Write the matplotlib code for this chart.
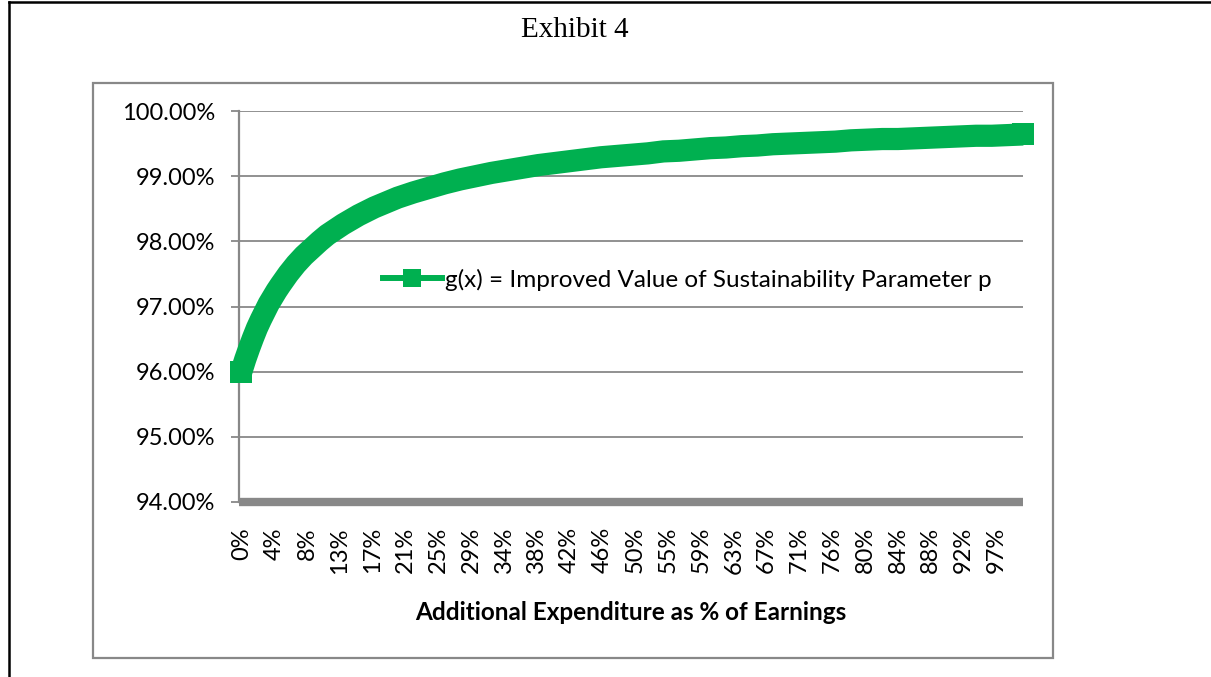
import matplotlib.pyplot as plt
from matplotlib.lines import Line2D
from matplotlib.patches import Rectangle
from matplotlib.ticker import FuncFormatter

# additional expenditure (% of earnings) and g(x) (%)
expenditure = [0, 0.5, 1, 1.5, 2, 2.5, 3, 3.5, 4, 4.5, 5,
               6, 7, 8, 9, 10, 11, 12, 13, 14, 15, 16, 17, 18, 19, 20,
               22, 24, 26, 28, 30, 32, 34, 36, 38, 40, 42, 44, 46, 48, 50,
               52, 54, 56, 58, 60, 62, 64, 66, 68, 70, 72, 74, 76, 78, 80,
               82, 84, 86, 88, 90, 92, 94, 96, 98, 100]
g_values = [96.00, 96.19, 96.36, 96.52, 96.67, 96.80, 96.92, 97.04, 97.14, 97.24, 97.33,
            97.50, 97.65, 97.78, 97.89, 98.00, 98.10, 98.18, 98.26, 98.33, 98.40,
            98.46, 98.52, 98.57, 98.62, 98.67,
            98.75, 98.82, 98.89, 98.95, 99.00, 99.05, 99.09, 99.13, 99.17, 99.20,
            99.23, 99.26, 99.29, 99.31, 99.33, 99.35, 99.38, 99.39, 99.41, 99.43,
            99.44, 99.46, 99.47, 99.49, 99.50, 99.51, 99.52, 99.53, 99.55, 99.56,
            99.57, 99.57, 99.58, 99.59, 99.60, 99.61, 99.62, 99.62, 99.63, 99.64]

tick_pos = [0, 4.2, 8.4, 12.6, 16.8, 21, 25.2, 29.4, 33.6, 37.8, 42, 46.2,
            50.4, 54.6, 58.8, 63, 67.2, 71.4, 75.6, 79.8, 84, 88.2, 92.4, 96.6]
tick_labels = ['0%', '4%', '8%', '13%', '17%', '21%', '25%', '29%', '34%', '38%',
               '42%', '46%', '50%', '55%', '59%', '63%', '67%', '71%', '76%', '80%',
               '84%', '88%', '92%', '97%']

W, H = 1211, 677
GREEN = '#00B050'
GRAY = '#888888'
FONT = 'Lato'


def fx(x):
    return x / W


def fy(y):
    return 1 - y / H


fig = plt.figure(figsize=(W / 100, H / 100), dpi=100)

# page frame lines and chart border
fig.add_artist(Line2D([fx(9), 1], [fy(2), fy(2)], color='black', lw=1.8))
fig.add_artist(Line2D([fx(9), fx(9)], [fy(2), 0], color='black', lw=1.8))
fig.add_artist(Rectangle((fx(93), fy(658)), fx(1053) - fx(93), fy(83) - fy(658),
                         fill=False, edgecolor=GRAY, lw=1.6))

fig.text(fx(575), fy(30), 'Exhibit 4', ha='center', va='center',
         family='Liberation Serif', fontsize=21)

ax = fig.add_axes([fx(239), fy(502), fx(1023) - fx(239), fy(111) - fy(502)])
# dense markers in the original merge into a solid band: thick line, squares at the ends
ax.plot(expenditure, g_values, color=GREEN, lw=16, marker='s', markersize=16,
        markevery=[0, len(expenditure) - 1], markeredgewidth=0,
        solid_joinstyle='round', solid_capstyle='butt', clip_on=False, zorder=3)

ax.set_xlim(-0.3, 100)
ax.set_ylim(94, 100)
ax.set_yticks([94, 95, 96, 97, 98, 99, 100])
ax.yaxis.set_major_formatter(FuncFormatter(lambda v, _: f'{v:.2f}%'))
ax.set_xticks(tick_pos)
ax.set_xticklabels(tick_labels, rotation=90)

ax.grid(axis='y', color=GRAY, lw=1.3)
ax.set_axisbelow(True)
for s in ['top', 'right']:
    ax.spines[s].set_visible(False)
ax.spines['left'].set_color(GRAY)
ax.spines['left'].set_linewidth(1.6)
ax.spines['bottom'].set_color(GRAY)
ax.spines['bottom'].set_linewidth(6)
ax.spines['bottom'].set_capstyle('butt')

ax.tick_params(axis='y', direction='out', length=6, width=1.3, color=GRAY, pad=11,
               labelsize=17, labelfontfamily=FONT)
ax.tick_params(axis='x', length=0, pad=18, labelsize=17, labelfontfamily=FONT)

fig.text(fx(631), fy(612), 'Additional Expenditure as % of Earnings', ha='center',
         va='center', family=FONT, fontweight='bold', fontsize=17.5)

handle = Line2D([], [], color=GREEN, lw=4.3, marker='s', markersize=12.3,
                markeredgewidth=0)
ax.legend([handle], ['g(x) = Improved Value of Sustainability Parameter p'],
          loc='center left', bbox_to_anchor=(0.184, 0.568), frameon=False,
          borderpad=0, borderaxespad=0, handlelength=2.4, handletextpad=0.15,
          prop={'family': FONT, 'size': 17.5})

fig.savefig('out.png', dpi=100)
